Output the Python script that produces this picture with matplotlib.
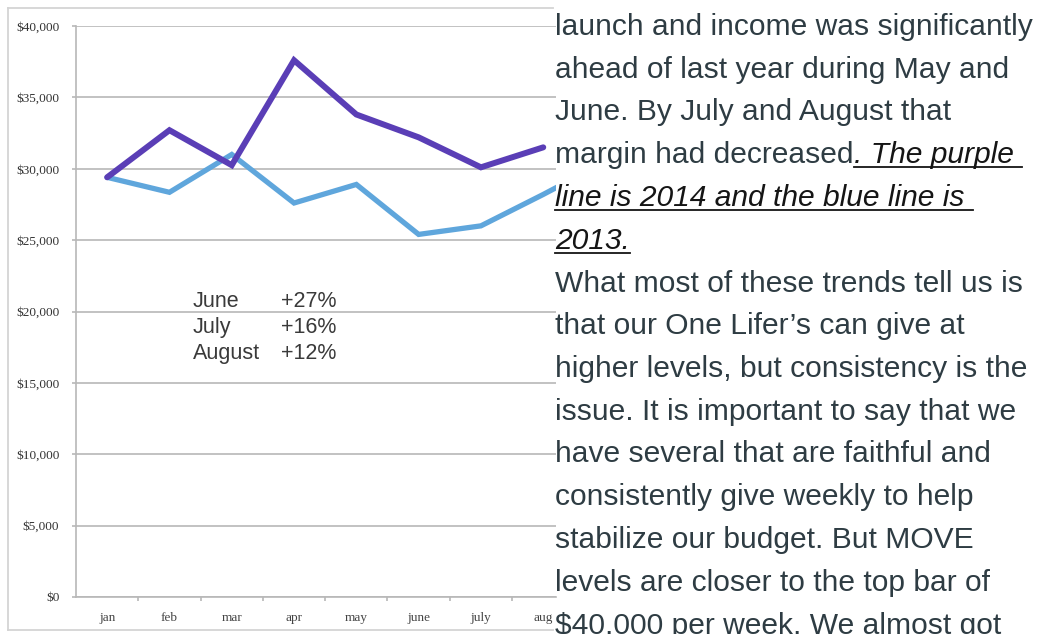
import matplotlib
matplotlib.use("Agg")
import matplotlib.pyplot as plt
from matplotlib.lines import Line2D
from matplotlib.ticker import FixedLocator, FuncFormatter
import numpy as np

# ---------------- data ----------------
months = ['jan', 'feb', 'mar', 'apr', 'may', 'june', 'july', 'aug', 'sep']
income_2014 = [29400, 32700, 30250, 37600, 33800, 32200, 30100, 31500]
income_2013 = [29400, 28350, 31000, 27600, 28900, 25400, 26000, 28200, 30500]
yticks = [0, 5000, 10000, 15000, 20000, 25000, 30000, 35000, 40000]
note_labels = ['June', 'July', 'August']
note_values = ['+27%', '+16%', '+12%']

body_lines = [
    ("launch and income was significantly", None),
    ("ahead of last year during May and", None),
    ("June. By July and August that", None),
    ("margin had decreased", ". The purple "),
    ("", "line is 2014 and the blue line is "),
    ("", "2013."),
    ("What most of these trends tell us is", None),
    ("that our One Lifer\u2019s can give at", None),
    ("higher levels, but consistency is the", None),
    ("issue. It is important to say that we", None),
    ("have several that are faithful and", None),
    ("consistently give weekly to help", None),
    ("stabilize our budget. But MOVE", None),
    ("levels are closer to the top bar of", None),
    ("$40,000 per week. We almost got", None),
]

# ---------------- layout helpers ----------------
W, H = 1039, 634
fig = plt.figure(figsize=(W / 100, H / 100), dpi=100)
fig.patch.set_facecolor('white')

def fx(px):
    return px / W

def fy(py):
    return 1 - py / H

GRID = '#b8b8b8'
PURPLE = '#5a3eb6'
BLUE = '#5fa6dc'

# outer frame of the embedded chart image
for (x0, y0, x1, y1) in [(8, 8, 553, 8), (8, 8, 8, 630), (8, 630, 553, 630)]:
    fig.add_artist(Line2D([fx(x0), fx(x1)], [fy(y0), fy(y1)], color='#d4d4d4', lw=1.3))

ax_left, ax_right, ax_top, ax_bottom = 76, 556, 26, 597
ax = fig.add_axes([fx(ax_left), fy(ax_bottom), (ax_right - ax_left) / W, (ax_bottom - ax_top) / H])
ax.set_facecolor('none')

x13 = np.arange(len(income_2013))
x14 = np.arange(len(income_2014))
ax.plot(x13, income_2013, color=BLUE, lw=3.8, solid_capstyle='round', solid_joinstyle='miter', zorder=3)
ax.plot(x14, income_2014, color=PURPLE, lw=4.3, solid_capstyle='round', solid_joinstyle='miter', zorder=4)

ax.yaxis.set_major_locator(FixedLocator(yticks))
ax.yaxis.set_major_formatter(FuncFormatter(lambda v, p: '$' + format(int(v), ',')))
ax.grid(axis='y', color=GRID, lw=1.2, zorder=1)
ax.tick_params(axis='y', length=3, width=1.2, color=GRID, pad=9, labelsize=9.5,
               labelcolor='#333333')
for lab in ax.get_yticklabels():
    lab.set_fontfamily('Liberation Serif')

ax.set_xticks(np.arange(len(months)))
ax.set_xticklabels(months, fontfamily='Liberation Serif', fontsize=9.5, color='#444444')
ax.tick_params(axis='x', which='major', length=0, pad=11)
ax.set_xticks(np.arange(len(months)) + 0.5, minor=True)
ax.tick_params(axis='x', which='minor', length=3, width=1.2, color=GRID)

ax.set_ylim(0, 40000)
ax.set_xlim(-0.5, -0.5 + (ax_right - ax_left) / 62.3)

for s in ['top', 'right']:
    ax.spines[s].set_visible(False)
for s in ['left', 'bottom']:
    ax.spines[s].set_color(GRID)
    ax.spines[s].set_linewidth(1.2)

# annotation block inside chart
for i, (lab, val) in enumerate(zip(note_labels, note_values)):
    yb = 307 + 26 * i
    fig.text(fx(193), fy(yb), lab, fontfamily='Liberation Sans', fontsize=15.5,
             color='#3a3a3a', va='baseline', ha='left')
    fig.text(fx(281), fy(yb), val, fontfamily='Liberation Sans', fontsize=15.5,
             color='#3a3a3a', va='baseline', ha='left')

# ---------------- body text on the right ----------------
TEXT_COL = '#2e3c43'
ITAL_COL = '#151515'
FS = 21.6
x_text = 555
renderer = fig.canvas.get_renderer()

def text_width(s, style):
    # width including trailing spaces, using a sentinel glyph
    t1 = fig.text(0, 0, s + 'l', fontfamily='Liberation Sans', fontsize=FS, style=style)
    t2 = fig.text(0, 0, 'l', fontfamily='Liberation Sans', fontsize=FS, style=style)
    w = t1.get_window_extent(renderer).width - t2.get_window_extent(renderer).width
    t1.remove()
    t2.remove()
    return w

for i, (normal, ital) in enumerate(body_lines):
    yb = 35 + 42.75 * i
    xpos = x_text
    if normal:
        fig.text(fx(xpos), fy(yb), normal, fontfamily='Liberation Sans', fontsize=FS,
                 color=TEXT_COL, va='baseline', ha='left', parse_math=False)
        xpos += text_width(normal, 'normal')
    if ital:
        fig.text(fx(xpos), fy(yb), ital, fontfamily='Liberation Sans', fontsize=FS,
                 style='italic', color=ITAL_COL, va='baseline', ha='left', parse_math=False)
        w = text_width(ital, 'italic')
        fig.add_artist(Line2D([fx(xpos), fx(xpos + w)], [fy(yb + 4), fy(yb + 4)],
                              color=ITAL_COL, lw=1.3))

fig.savefig('out.png', dpi=100, facecolor='white')
